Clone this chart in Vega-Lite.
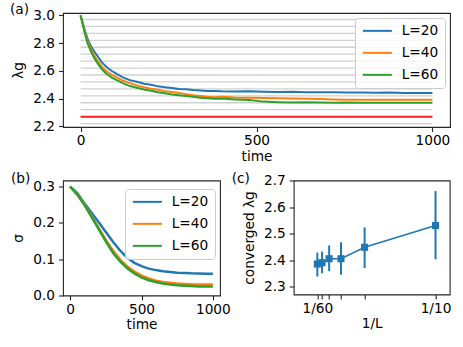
{
  "$schema": "https://vega.github.io/schema/vega-lite/v6.json",
  "padding": {"left": 9, "top": 2, "right": 5, "bottom": 5},
  "background": "white",
  "config": {
    "font": "DejaVu Sans",
    "view": {"stroke": "#262626", "strokeWidth": 1.1},
    "axis": {"grid": false, "domain": false, "ticks": true, "tickSize": 4.5, "tickWidth": 1.1, "tickColor": "#262626",
      "labelFontSize": 13.7, "labelColor": "#000", "titleFontSize": 13.7, "titleColor": "#000", "titleFontWeight": "normal",
      "labelPadding": 2, "titlePadding": 2, "labelFlush": false, "labelOverlap": false},
    "axisY": {"titlePadding": 7, "labelPadding": 4, "labelOverlap": false},
    "axisX": {"labelOverlap": false},
    "legend": {"title": null, "orient": "none", "symbolType": "M-1,0L4.8,0", "symbolSize": 100, "symbolStrokeWidth": 2,
      "labelFontSize": 13.7, "labelColor": "#000", "labelOffset": 27, "padding": 6, "rowPadding": 7,
      "fillColor": "rgba(255,255,255,0.8)", "strokeColor": "#cccccc", "cornerRadius": 3},
    "title": {"fontSize": 13.7, "fontWeight": "normal", "color": "#000", "anchor": "start", "frame": "group"}
  },
  "datasets": {
    "grid": [{"g": 2.22}, {"g": 2.27}, {"g": 2.32}, {"g": 2.37}, {"g": 2.42}, {"g": 2.47}, {"g": 2.52}, {"g": 2.57},
             {"g": 2.62}, {"g": 2.67}, {"g": 2.72}, {"g": 2.77}, {"g": 2.82}, {"g": 2.87}, {"g": 2.92}, {"g": 2.97}],
    "crit": [{"c": 2.269}],
    "lam": [
      {"t": 0, "L=20": 3.0, "L=40": 3.0, "L=60": 3.0},
      {"t": 5, "L=20": 2.955, "L=40": 2.95, "L=60": 2.945},
      {"t": 10, "L=20": 2.91, "L=40": 2.9, "L=60": 2.893},
      {"t": 15, "L=20": 2.868, "L=40": 2.853, "L=60": 2.842},
      {"t": 20, "L=20": 2.83, "L=40": 2.812, "L=60": 2.798},
      {"t": 30, "L=20": 2.775, "L=40": 2.755, "L=60": 2.737},
      {"t": 40, "L=20": 2.735, "L=40": 2.706, "L=60": 2.688},
      {"t": 50, "L=20": 2.7, "L=40": 2.667, "L=60": 2.648},
      {"t": 60, "L=20": 2.663, "L=40": 2.632, "L=60": 2.612},
      {"t": 70, "L=20": 2.637, "L=40": 2.603, "L=60": 2.586},
      {"t": 80, "L=20": 2.614, "L=40": 2.586, "L=60": 2.566},
      {"t": 90, "L=20": 2.597, "L=40": 2.569, "L=60": 2.549},
      {"t": 100, "L=20": 2.582, "L=40": 2.556, "L=60": 2.536},
      {"t": 120, "L=20": 2.553, "L=40": 2.53, "L=60": 2.511},
      {"t": 140, "L=20": 2.533, "L=40": 2.511, "L=60": 2.49},
      {"t": 160, "L=20": 2.521, "L=40": 2.495, "L=60": 2.478},
      {"t": 180, "L=20": 2.507, "L=40": 2.481, "L=60": 2.465},
      {"t": 200, "L=20": 2.499, "L=40": 2.471, "L=60": 2.456},
      {"t": 220, "L=20": 2.488, "L=40": 2.464, "L=60": 2.446},
      {"t": 240, "L=20": 2.481, "L=40": 2.452, "L=60": 2.438},
      {"t": 260, "L=20": 2.477, "L=40": 2.447, "L=60": 2.43},
      {"t": 280, "L=20": 2.469, "L=40": 2.441, "L=60": 2.424},
      {"t": 300, "L=20": 2.467, "L=40": 2.432, "L=60": 2.418},
      {"t": 320, "L=20": 2.461, "L=40": 2.424, "L=60": 2.413},
      {"t": 340, "L=20": 2.459, "L=40": 2.418, "L=60": 2.406},
      {"t": 360, "L=20": 2.455, "L=40": 2.413, "L=60": 2.403},
      {"t": 380, "L=20": 2.454, "L=40": 2.41, "L=60": 2.398},
      {"t": 400, "L=20": 2.452, "L=40": 2.414, "L=60": 2.4},
      {"t": 440, "L=20": 2.451, "L=40": 2.408, "L=60": 2.394},
      {"t": 480, "L=20": 2.452, "L=40": 2.406, "L=60": 2.389},
      {"t": 520, "L=20": 2.449, "L=40": 2.404, "L=60": 2.378},
      {"t": 560, "L=20": 2.448, "L=40": 2.403, "L=60": 2.374},
      {"t": 600, "L=20": 2.449, "L=40": 2.401, "L=60": 2.372},
      {"t": 640, "L=20": 2.446, "L=40": 2.399, "L=60": 2.373},
      {"t": 680, "L=20": 2.445, "L=40": 2.396, "L=60": 2.371},
      {"t": 720, "L=20": 2.446, "L=40": 2.393, "L=60": 2.37},
      {"t": 760, "L=20": 2.443, "L=40": 2.392, "L=60": 2.371},
      {"t": 800, "L=20": 2.444, "L=40": 2.392, "L=60": 2.369},
      {"t": 840, "L=20": 2.442, "L=40": 2.391, "L=60": 2.369},
      {"t": 880, "L=20": 2.443, "L=40": 2.391, "L=60": 2.369},
      {"t": 920, "L=20": 2.441, "L=40": 2.392, "L=60": 2.37},
      {"t": 960, "L=20": 2.441, "L=40": 2.392, "L=60": 2.369},
      {"t": 1000, "L=20": 2.44, "L=40": 2.392, "L=60": 2.369}
    ],
    "sig": [
      {"t": 0, "L=20": 0.3, "L=40": 0.3, "L=60": 0.3},
      {"t": 50, "L=20": 0.282, "L=40": 0.279, "L=60": 0.278},
      {"t": 100, "L=20": 0.254, "L=40": 0.251, "L=60": 0.25},
      {"t": 150, "L=20": 0.228, "L=40": 0.219, "L=60": 0.217},
      {"t": 200, "L=20": 0.202, "L=40": 0.186, "L=60": 0.183},
      {"t": 250, "L=20": 0.175, "L=40": 0.153, "L=60": 0.149},
      {"t": 300, "L=20": 0.148, "L=40": 0.124, "L=60": 0.118},
      {"t": 350, "L=20": 0.124, "L=40": 0.099, "L=60": 0.094},
      {"t": 400, "L=20": 0.104, "L=40": 0.08, "L=60": 0.075},
      {"t": 450, "L=20": 0.09, "L=40": 0.066, "L=60": 0.061},
      {"t": 500, "L=20": 0.081, "L=40": 0.055, "L=60": 0.05},
      {"t": 550, "L=20": 0.074, "L=40": 0.047, "L=60": 0.042},
      {"t": 600, "L=20": 0.07, "L=40": 0.041, "L=60": 0.037},
      {"t": 650, "L=20": 0.067, "L=40": 0.037, "L=60": 0.033},
      {"t": 700, "L=20": 0.065, "L=40": 0.035, "L=60": 0.03},
      {"t": 750, "L=20": 0.063, "L=40": 0.033, "L=60": 0.028},
      {"t": 800, "L=20": 0.062, "L=40": 0.032, "L=60": 0.027},
      {"t": 850, "L=20": 0.061, "L=40": 0.031, "L=60": 0.026},
      {"t": 900, "L=20": 0.0605, "L=40": 0.0305, "L=60": 0.025},
      {"t": 950, "L=20": 0.06, "L=40": 0.03, "L=60": 0.025},
      {"t": 1000, "L=20": 0.06, "L=40": 0.03, "L=60": 0.025}
    ],
    "conv": [
      {"x": 0.016667, "y": 2.385, "lo": 2.338, "hi": 2.428},
      {"x": 0.02, "y": 2.39, "lo": 2.35, "hi": 2.432},
      {"x": 0.025, "y": 2.405, "lo": 2.358, "hi": 2.455},
      {"x": 0.033333, "y": 2.405, "lo": 2.345, "hi": 2.467},
      {"x": 0.05, "y": 2.448, "lo": 2.37, "hi": 2.523},
      {"x": 0.1, "y": 2.53, "lo": 2.403, "hi": 2.66}
    ]
  },
  "bounds": "flush",
  "spacing": 53.5,
  "resolve": {"scale": {"color": "independent"}, "legend": {"color": "independent"}},
  "vconcat": [
    {
      "width": 387, "height": 114,
      "title": {"text": "(a)", "dx": -53, "offset": -8},
      "layer": [
        {
          "data": {"name": "grid"},
          "mark": {"type": "rule", "color": "#d0d0d0", "strokeWidth": 1.3},
          "encoding": {
            "y": {"field": "g", "type": "quantitative", "title": "λg",
              "scale": {"domain": [2.195, 3.017], "nice": false, "zero": false},
              "axis": {"values": [2.2, 2.4, 2.6, 2.8, 3.0], "format": ".1f", "labelOverlap": false}},
            "x": {"datum": 0, "type": "quantitative", "title": "time",
              "scale": {"domain": [-50, 1050], "nice": false, "zero": false},
              "axis": {"values": [0, 500, 1000], "format": "d", "labelOverlap": false}},
            "x2": {"datum": 1000}
          }
        },
        {
          "data": {"name": "crit"},
          "mark": {"type": "rule", "color": "#f81c1c", "strokeWidth": 2},
          "encoding": {
            "y": {"field": "c", "type": "quantitative", "title": "λg",
              "axis": {"values": [2.2, 2.4, 2.6, 2.8, 3.0], "format": ".1f", "labelOverlap": false}},
            "x": {"datum": 0, "type": "quantitative", "title": "time",
              "axis": {"values": [0, 500, 1000], "format": "d", "labelOverlap": false}},
            "x2": {"datum": 1000}
          }
        },
        {
          "data": {"name": "lam"},
          "transform": [{"fold": ["L=20", "L=40", "L=60"], "as": ["L", "v"]}],
          "mark": {"type": "line", "strokeWidth": 2},
          "encoding": {
            "x": {"field": "t", "type": "quantitative", "title": "time",
              "axis": {"values": [0, 500, 1000], "format": "d", "labelOverlap": false}},
            "y": {"field": "v", "type": "quantitative", "title": "λg",
              "axis": {"values": [2.2, 2.4, 2.6, 2.8, 3.0], "format": ".1f", "labelOverlap": false}},
            "color": {"field": "L", "type": "nominal",
              "scale": {"domain": ["L=20", "L=40", "L=60"], "range": ["#1f77b4", "#ff7f0e", "#2ca02c"]},
              "legend": {"legendX": 292, "legendY": 5}}
          }
        }
      ]
    },
    {
      "bounds": "flush",
      "spacing": 73.7,
      "resolve": {"scale": {"color": "independent"}, "legend": {"color": "independent"}},
      "hconcat": [
        {
          "width": 157, "height": 115,
          "title": {"text": "(b)", "dx": -52, "offset": -6},
          "data": {"name": "sig"},
          "transform": [{"fold": ["L=20", "L=40", "L=60"], "as": ["L", "v"]}],
          "mark": {"type": "line", "strokeWidth": 2.5},
          "encoding": {
            "x": {"field": "t", "type": "quantitative", "title": "time",
              "scale": {"domain": [-50, 1050], "nice": false, "zero": false},
              "axis": {"values": [0, 500, 1000], "format": "d", "labelOverlap": false}},
            "y": {"field": "v", "type": "quantitative", "title": "σ",
              "scale": {"domain": [0, 0.317], "nice": false, "zero": false},
              "axis": {"values": [0, 0.1, 0.2, 0.3], "format": ".1f", "labelOverlap": false}},
            "color": {"field": "L", "type": "nominal",
              "scale": {"domain": ["L=20", "L=40", "L=60"], "range": ["#1f77b4", "#ff7f0e", "#2ca02c"]},
              "legend": {"legendX": 62, "legendY": 8.5}}
          }
        },
        {
          "width": 156, "height": 114,
          "title": {"text": "(c)", "dx": -62, "offset": -12.5},
          "data": {"name": "conv"},
          "layer": [
            {
              "mark": {"type": "rule", "color": "#1f77b4", "strokeWidth": 2},
              "encoding": {
                "x": {"field": "x", "type": "quantitative", "title": "1/L",
                  "scale": {"domain": [0, 0.11], "nice": false, "zero": false},
                  "axis": {"values": [0.016667, 0.02, 0.025, 0.033333, 0.05, 0.1], "labelOverlap": false,
                    "labelExpr": "abs(datum.value - 0.016667) < 0.0001 ? '1/60' : (abs(datum.value - 0.1) < 0.0001 ? '1/10' : '')"}},
                "y": {"field": "lo", "type": "quantitative", "title": "converged λg",
                  "scale": {"domain": [2.27, 2.7], "nice": false, "zero": false},
                  "axis": {"values": [2.3, 2.4, 2.5, 2.6, 2.7], "format": ".1f", "labelOverlap": false}},
                "y2": {"field": "hi"}
              }
            },
            {
              "mark": {"type": "line", "color": "#1f77b4", "strokeWidth": 1.5},
              "encoding": {
                "x": {"field": "x", "type": "quantitative", "title": "1/L",
                  "axis": {"values": [0.016667, 0.02, 0.025, 0.033333, 0.05, 0.1], "labelOverlap": false,
                    "labelExpr": "abs(datum.value - 0.016667) < 0.0001 ? '1/60' : (abs(datum.value - 0.1) < 0.0001 ? '1/10' : '')"}},
                "y": {"field": "y", "type": "quantitative", "title": "converged λg",
                  "axis": {"values": [2.3, 2.4, 2.5, 2.6, 2.7], "format": ".1f", "labelOverlap": false}}
              }
            },
            {
              "mark": {"type": "point", "shape": "square", "filled": true, "color": "#1f77b4", "opacity": 1, "size": 50},
              "encoding": {
                "x": {"field": "x", "type": "quantitative", "title": "1/L",
                  "axis": {"values": [0.016667, 0.02, 0.025, 0.033333, 0.05, 0.1], "labelOverlap": false,
                    "labelExpr": "abs(datum.value - 0.016667) < 0.0001 ? '1/60' : (abs(datum.value - 0.1) < 0.0001 ? '1/10' : '')"}},
                "y": {"field": "y", "type": "quantitative", "title": "converged λg",
                  "axis": {"values": [2.3, 2.4, 2.5, 2.6, 2.7], "format": ".1f", "labelOverlap": false}}
              }
            }
          ]
        }
      ]
    }
  ]
}
